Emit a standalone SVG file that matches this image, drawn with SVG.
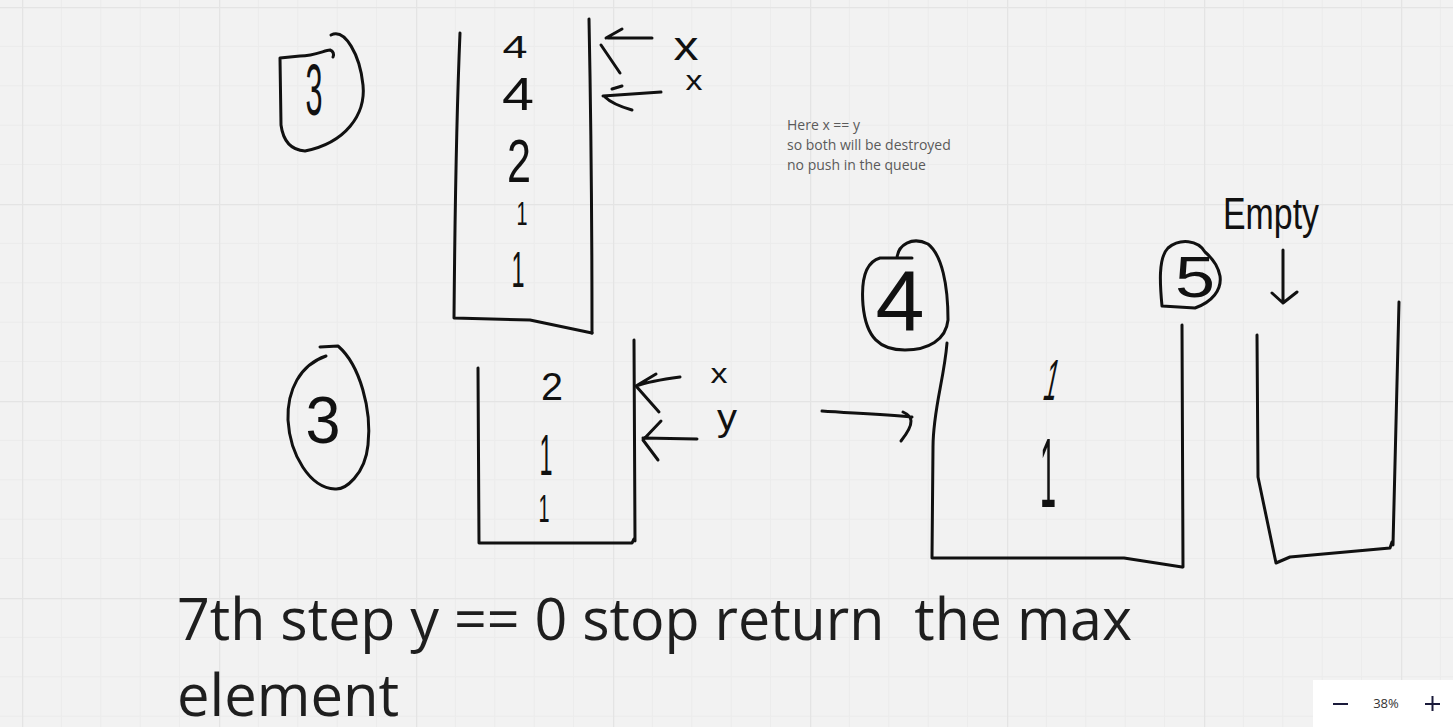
<svg xmlns="http://www.w3.org/2000/svg" width="1453" height="727" viewBox="0 0 1453 727">
<defs>
<pattern id="grid" x="22" y="7" width="197" height="197" patternUnits="userSpaceOnUse">
<path d="M39.4,0V197M78.8,0V197M118.2,0V197M157.6,0V197M0,39.4H197M0,78.8H197M0,118.2H197M0,157.6H197" stroke="#ebebeb" stroke-width="1" fill="none"/>
<path d="M0.5,0V197M0,0.5H197" stroke="#e4e4e4" stroke-width="1.5" fill="none"/>
</pattern>
</defs>
<style>
.ink{fill:none;stroke:#111;stroke-width:3;stroke-linecap:round;stroke-linejoin:round}
.hw{font-family:"Liberation Sans",Arial,sans-serif;fill:#111;text-anchor:middle}
.note{font-family:"Open Sans","Noto Sans",sans-serif;font-size:14px;fill:#5a5a5a}
.big{font-family:"Open Sans","Noto Sans",sans-serif;font-size:58px;fill:#1e1e1e;white-space:pre}
</style>
<rect width="1453" height="727" fill="#f2f2f2"/>
<rect width="1453" height="727" fill="url(#grid)"/>

<g id="step3-top-label">
<path class="ink" d="M331,35 C345,28 360,55 363,85 C366,115 345,143 305,151 C290,150 283,140 281,125 L280,58 L300,56 C315,56 325,50 330,50 Q335,52 333,57"/>
<text class="hw" x="314" y="115" font-size="72" textLength="17" lengthAdjust="spacingAndGlyphs">3</text>
</g>

<g id="stack-top">
<path class="ink" d="M460,33 C458,80 455,200 454,318 L530,320 L592,333"/>
<path class="ink" d="M589,19 C591,120 592,250 592,333"/>
<text class="hw" x="515" y="58" font-size="32" textLength="25" lengthAdjust="spacingAndGlyphs">4</text>
<text class="hw" x="518" y="110" font-size="46" textLength="32" lengthAdjust="spacingAndGlyphs">4</text>
<text class="hw" x="519" y="182" font-size="62" textLength="24" lengthAdjust="spacingAndGlyphs">2</text>
<text class="hw" x="522" y="225" font-size="34" textLength="11" lengthAdjust="spacingAndGlyphs">1</text>
<text class="hw" x="518" y="287" font-size="50" textLength="13" lengthAdjust="spacingAndGlyphs">1</text>
<text class="hw" x="686" y="60" font-size="40" textLength="25" lengthAdjust="spacingAndGlyphs">x</text>
<text class="hw" x="694" y="90" font-size="28" textLength="17" lengthAdjust="spacingAndGlyphs">x</text>
</g>

<g id="note">
<text class="note" x="787" y="130">Here x == y</text>
<text class="note" x="787" y="150">so both will be destroyed</text>
<text class="note" x="787" y="170">no push in the queue</text>
</g>

<g id="step3-bottom-label">
<path class="ink" d="M320,347 L338,346 C360,365 372,410 368,445 C365,475 345,490 335,489 C310,488 290,455 288,420 C287,390 300,365 326,356"/>
<text class="hw" x="323" y="443" font-size="66" textLength="35" lengthAdjust="spacingAndGlyphs">3</text>
</g>

<g id="stack-bottom">
<path class="ink" d="M478,368 C478,420 479,480 479,543 L632,543 L634,539"/>
<path class="ink" d="M634,340 L635,541"/>
<text class="hw" x="552" y="400" font-size="39" textLength="22" lengthAdjust="spacingAndGlyphs">2</text>
<text class="hw" x="546" y="475" font-size="58" textLength="13" lengthAdjust="spacingAndGlyphs">1</text>
<text class="hw" x="544" y="522" font-size="38" textLength="11" lengthAdjust="spacingAndGlyphs">1</text>
<text class="hw" x="719" y="383" font-size="28" textLength="17" lengthAdjust="spacingAndGlyphs">x</text>
<text class="hw" x="727" y="430" font-size="36" textLength="20" lengthAdjust="spacingAndGlyphs">y</text>
</g>

<g id="step4-label">
<path class="ink" d="M897,258 C898,245 912,236 928,244 C942,255 948,285 948,320 C946,340 928,350 905,350 C880,350 866,338 863,305 C861,280 866,262 880,258 L912,258"/>
<text class="hw" x="900" y="330" font-size="86" textLength="49" lengthAdjust="spacingAndGlyphs">4</text>
</g>

<g id="stack-step4">
<path class="ink" d="M947,343 C944,380 933,410 933,447 L932,558 L1124,558 L1182,567"/>
<path class="ink" d="M1182,325 L1183,567"/>
<text class="hw" x="1048" y="400" font-size="58" textLength="13" lengthAdjust="spacingAndGlyphs" transform="skewX(-12) translate(85,0)">1</text>
<text class="hw" x="1048" y="507" font-size="98" textLength="16" lengthAdjust="spacingAndGlyphs">1</text>
</g>

<g id="step5-label">
<path class="ink" d="M1205,252 C1198,240 1180,238 1168,248 C1158,258 1160,285 1162,306 L1195,308 C1212,302 1222,290 1220,276 C1218,265 1212,258 1205,252"/>
<text class="hw" x="1195" y="297" font-size="58" textLength="40" lengthAdjust="spacingAndGlyphs">5</text>
</g>

<g id="stack-step5">
<path class="ink" d="M1257,335 L1258,477 L1276,563 L1290,557 L1390,548 L1392,542"/>
<path class="ink" d="M1399,302 L1393,545"/>
<text class="hw" x="1271" y="229" font-size="45" textLength="96" lengthAdjust="spacingAndGlyphs">Empty</text>
</g>

<g id="connectors">
<path class="ink" d="M652,38 L608,38 M606,38 L622,29 M601,45 L620,73"/>
<path class="ink" d="M661,92 L603,96 M605,97 C612,104 625,108 632,110 M612,89 L622,86"/>
<path class="ink" d="M680,377 C665,379 650,381 636,386 M636,386 L656,374 M636,386 L659,412"/>
<path class="ink" d="M697,439 L643,438 M661,421 L643,440 L658,460"/>
<path class="ink" d="M822,411 C850,413 880,414 912,417 M903,412 C912,416 916,422 901,441"/>
<path class="ink" d="M1283,250 L1283,303 M1272,293 L1283,303 L1297,292"/>
</g>

<g id="caption">
<text class="big" x="177" y="640" xml:space="preserve" textLength="955" lengthAdjust="spacingAndGlyphs">7th step y == 0 stop return  the max</text>
<text class="big" x="177" y="716">element</text>
</g>

<g id="zoom-widget">
<rect x="1313" y="680" width="140" height="50" fill="#ffffff"/>
<path d="M1333,704H1348M1425,704H1440M1432.5,696V711" stroke="#1a1a3a" stroke-width="2" fill="none"/>
<text x="1386" y="708" font-family="Open Sans, Noto Sans, sans-serif" font-size="13" fill="#333" text-anchor="middle">38%</text>
</g>
</svg>
